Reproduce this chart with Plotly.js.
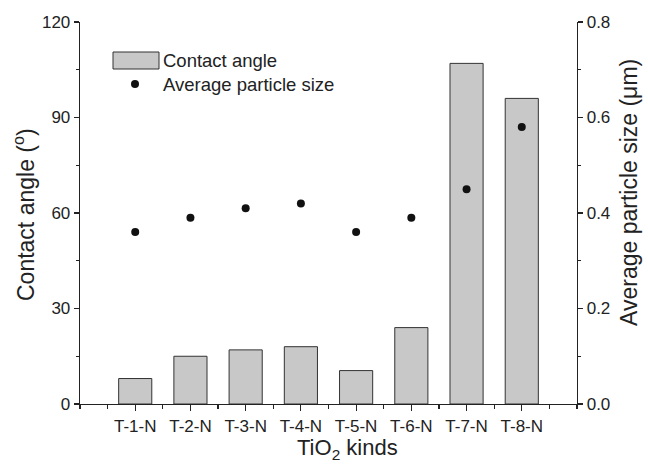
<!DOCTYPE html>
<html>
<head>
<meta charset="utf-8">
<script src="https://cdn.plot.ly/plotly-3.0.1.min.js"></script>
<style>html,body{margin:0;padding:0;background:#fff;}#chart{width:648px;height:466px;}</style>
</head>
<body>
<div id="chart"></div>
<script>
const categories = ['T-1-N', 'T-2-N', 'T-3-N', 'T-4-N', 'T-5-N', 'T-6-N', 'T-7-N', 'T-8-N'];
const contactAngle = [8, 15, 17, 18, 10.5, 24, 107, 96];
const particleSize = [0.36, 0.39, 0.41, 0.42, 0.36, 0.39, 0.45, 0.58];
const leftTicks = [0, 30, 60, 90, 120];
const rightTicks = [0.0, 0.2, 0.4, 0.6, 0.8];

const xPos = categories.map((_, i) => i + 1);
const xRange = [0, categories.length + 1];
const minorVals = [xRange[0]].concat(xPos.map(v => v - 0.5), [xPos[xPos.length - 1] + 0.5, xRange[1]]);

const FONT = '"Liberation Sans", Arial, sans-serif';
const INK = '#222';

const traces = [
  {
    type: 'bar', x: xPos, y: contactAngle, width: 0.6,
    marker: {color: '#c8c8c8', line: {color: '#333', width: 1}},
    name: 'Contact angle', showlegend: false, hoverinfo: 'skip'
  },
  {
    type: 'scatter', mode: 'markers', x: xPos, y: particleSize, yaxis: 'y2',
    marker: {color: '#111', size: 8},
    name: 'Average particle size', showlegend: false, hoverinfo: 'skip'
  }
];

// plot area in px: x 80..577, y 22..404
const L = 80, R = 577, T = 22, B = 404;
const px = v => (v - L) / (R - L);
const py = v => (B - v) / (B - T);

const layout = {
  width: 648, height: 466,
  margin: {l: L, r: 648 - R, t: T, b: 466 - B, pad: 0},
  paper_bgcolor: '#fff', plot_bgcolor: '#fff',
  font: {family: FONT, color: INK, size: 17},
  showlegend: false,
  xaxis: {
    range: xRange, tickmode: 'array', tickvals: xPos, ticktext: categories,
    showline: true, linecolor: INK, linewidth: 1.3, mirror: false,
    ticks: 'outside', ticklen: 6, tickwidth: 1.2, tickcolor: INK,
    minor: {ticks: 'outside', ticklen: 4, tickwidth: 1.2, tickcolor: INK, tickmode: 'array', tickvals: minorVals, showgrid: false},
    showgrid: false, zeroline: false, tickfont: {size: 17}
  },
  xaxis2: {
    overlaying: 'x', side: 'top', anchor: 'y', range: xRange,
    tickmode: 'array', tickvals: xPos, showticklabels: false,
    showline: true, linecolor: INK, linewidth: 1.3,
    ticks: 'inside', ticklen: 4, tickwidth: 1.2, tickcolor: INK,
    minor: {ticks: 'inside', ticklen: 3, tickwidth: 1.2, tickcolor: INK, tickmode: 'array', tickvals: minorVals, showgrid: false},
    showgrid: false, zeroline: false
  },
  yaxis: {
    range: [0, 120], tickmode: 'array', tickvals: leftTicks,
    showline: true, linecolor: INK, linewidth: 1.3,
    ticks: 'outside', ticklen: 5, tickwidth: 1.2, tickcolor: INK,
    minor: {ticks: 'outside', ticklen: 3, tickwidth: 1.2, tickcolor: INK, tick0: 15, dtick: 30, showgrid: false},
    showgrid: false, zeroline: false, tickfont: {size: 17}
  },
  yaxis2: {
    range: [0, 0.8], overlaying: 'y', side: 'right', anchor: 'x',
    tickmode: 'array', tickvals: rightTicks, tickformat: '.1f',
    showline: true, linecolor: INK, linewidth: 1.3,
    ticks: 'outside', ticklen: 5, tickwidth: 1.2, tickcolor: INK,
    minor: {ticks: 'outside', ticklen: 3, tickwidth: 1.2, tickcolor: INK, tick0: 0.1, dtick: 0.2, showgrid: false},
    showgrid: false, zeroline: false, tickfont: {size: 17}
  },
  shapes: [
    {type: 'rect', xref: 'paper', yref: 'paper', x0: px(113), x1: px(159), y0: py(69), y1: py(52),
     fillcolor: '#c8c8c8', line: {color: '#333', width: 1}},
    {type: 'circle', xref: 'paper', yref: 'paper', x0: px(131), x1: px(139), y0: py(88), y1: py(80),
     fillcolor: '#111', line: {color: '#111', width: 0}}
  ],
  annotations: [
    {xref: 'paper', yref: 'paper', x: px(161), y: py(60), xanchor: 'left', yanchor: 'middle',
     text: 'Contact angle', showarrow: false, font: {size: 18.5, color: INK}},
    {xref: 'paper', yref: 'paper', x: px(161), y: py(84), xanchor: 'left', yanchor: 'middle',
     text: 'Average particle size', showarrow: false, font: {size: 18.5, color: INK}},
    {xref: 'paper', yref: 'paper', x: px(24), y: py(215), xanchor: 'center', yanchor: 'middle', textangle: -90,
     text: 'Contact angle (<sup>o</sup>)', showarrow: false, font: {size: 23, color: INK}},
    {xref: 'paper', yref: 'paper', x: px(629), y: py(193), xanchor: 'center', yanchor: 'middle', textangle: -90,
     text: 'Average particle size (μm)', showarrow: false, font: {size: 23, color: INK}},
    {xref: 'paper', yref: 'paper', x: px(347), y: py(449), xanchor: 'center', yanchor: 'middle',
     text: 'TiO<sub>2</sub> kinds', showarrow: false, font: {size: 22, color: INK}}
  ]
};

Plotly.newPlot('chart', traces, layout, {staticPlot: true, displayModeBar: false});
</script>
</body>
</html>
